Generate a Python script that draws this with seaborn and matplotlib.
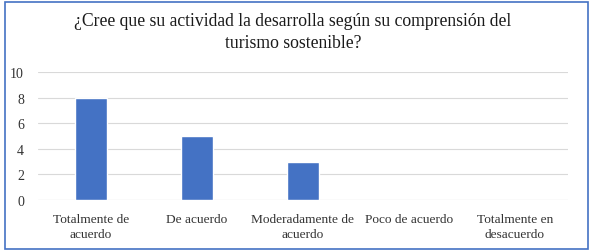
import matplotlib
matplotlib.use("Agg")
import matplotlib.pyplot as plt
import seaborn as sns
import pandas as pd
from matplotlib.patches import Rectangle

categorias = ["Totalmente de\nacuerdo", "De acuerdo", "Moderadamente de\nacuerdo",
              "Poco de acuerdo", "Totalmente en\ndesacuerdo"]
respuestas = [8, 5, 3, 0, 0]
ticks_y = [0, 2, 4, 6, 8, 10]

sns.set_style("white")
plt.rcParams['font.family'] = ['Liberation Serif', 'DejaVu Serif']

df = pd.DataFrame({"categoria": categorias, "respuestas": respuestas})

fig = plt.figure(figsize=(5.92, 2.53), dpi=100)
ax = fig.add_axes([0.064, 0.2055, 0.895, 0.506])

sns.barplot(data=df, x="categoria", y="respuestas", color="#4472C4",
            width=0.3, saturation=1, ax=ax)

ax.set_ylim(0, 10)
ax.set_yticks(ticks_y)
ax.yaxis.grid(True, color="#d9d9d9", linewidth=0.8)
ax.set_axisbelow(True)
for s in ax.spines.values():
    s.set_visible(False)
ax.axhline(0, color="#d9d9d9", linewidth=0.8, zorder=0)
ax.set_xlabel("")
ax.set_ylabel("")
ax.tick_params(axis="x", length=0, labelsize=9.6, colors="#333333", pad=9)
ax.tick_params(axis="y", length=0, labelsize=10, colors="#333333", pad=10)
for lbl in ax.get_xticklabels():
    lbl.set_linespacing(1.4)

fig.text(0.495, 0.872, "¿Cree que su actividad la desarrolla según su comprensión del\nturismo sostenible?",
         ha="center", va="center", fontsize=12.7, color="#1a1a1a", linespacing=1.35)

fig.patches.append(Rectangle((0.008, 0.012), 0.985, 0.976, transform=fig.transFigure,
                             fill=False, edgecolor="#4472C4", linewidth=1.2))

fig.savefig("out.png", dpi=100)
